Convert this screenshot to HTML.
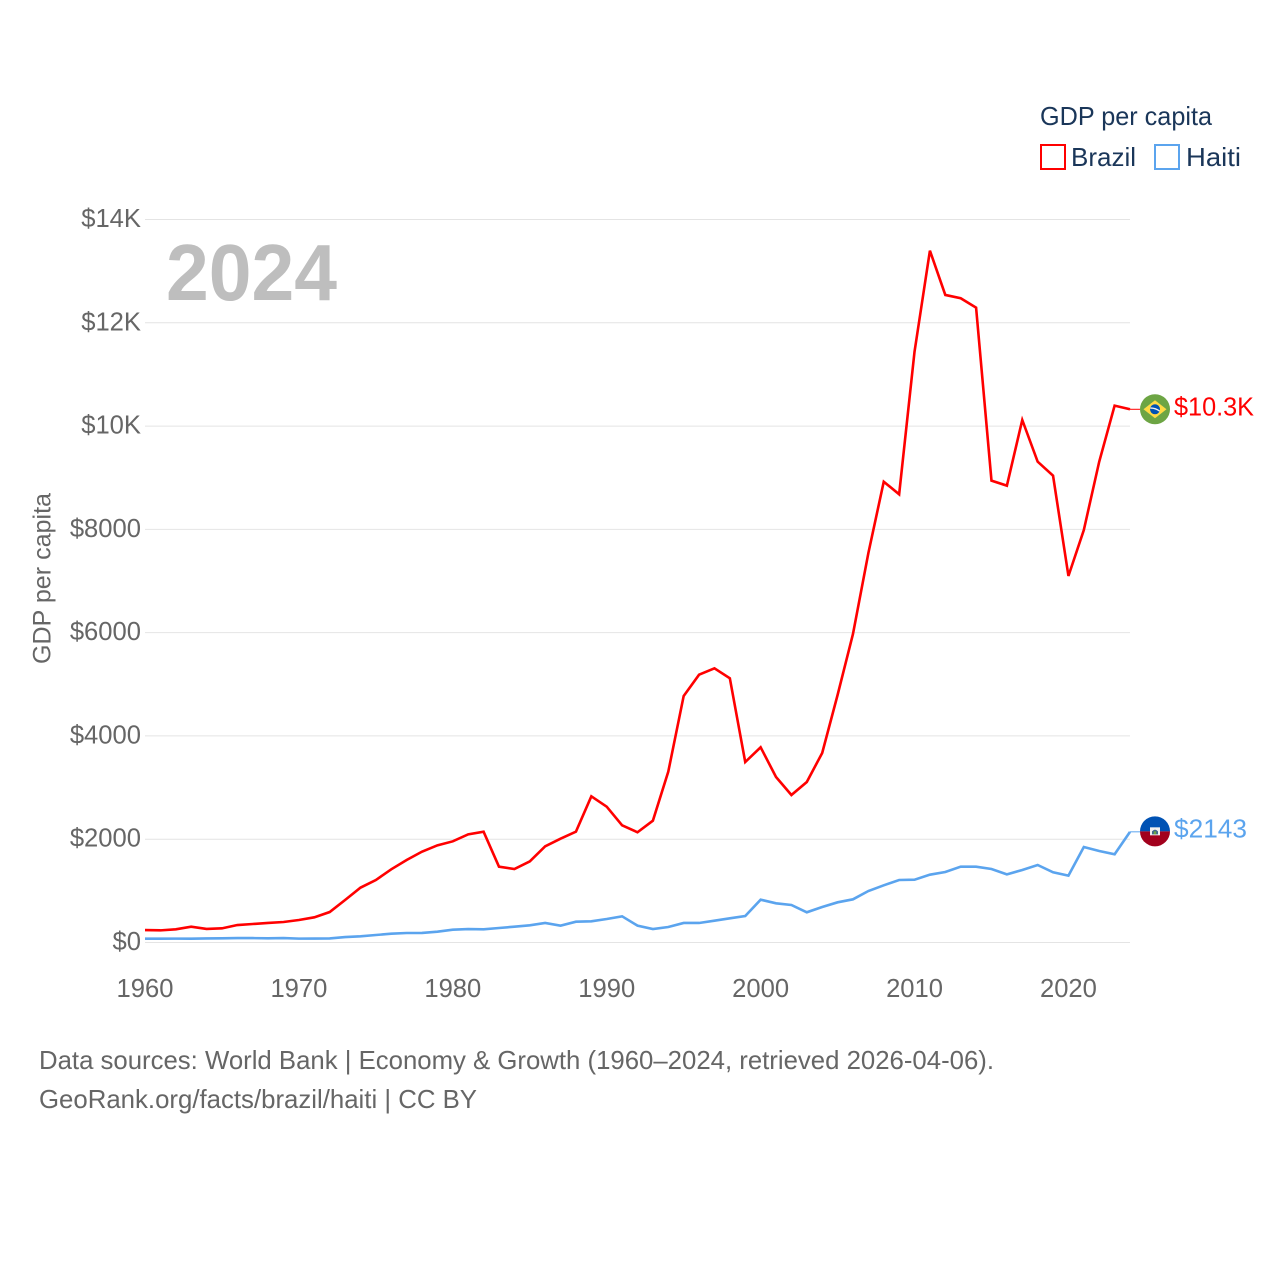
<!DOCTYPE html>
<html lang="en">
<head>
<meta charset="utf-8">
<title>GDP per capita: Brazil and Haiti</title>
<style>
html,body{margin:0;padding:0;background:#fff;}
svg{display:block;font-family:"Liberation Sans",Arial,sans-serif;}
</style>
</head>
<body>
<svg id="chart" xmlns="http://www.w3.org/2000/svg" width="1280" height="1280" viewBox="0 0 1280 1280">
  <rect x="0" y="0" width="1280" height="1280" fill="#ffffff"/>
  <g id="grid"></g>
  <g id="ytick-labels"></g>
  <g id="xtick-labels"></g>

  <text x="166" y="300" font-size="80" font-weight="700" fill="#bebebe" textLength="171" lengthAdjust="spacingAndGlyphs">2024</text>
  <text transform="translate(50.5,664) rotate(-90)" font-size="25" fill="#666666" textLength="171" lengthAdjust="spacingAndGlyphs">GDP per capita</text>

  <g id="series"></g>

  <g id="brazil-flag">
    <circle cx="0" cy="0" r="15" fill="#6da544"/>
    <polygon points="0,-9 11.5,0 0,9 -11.5,0" fill="#ffda44"/>
    <circle cx="0" cy="0" r="5" fill="#0052b4"/>
    <path d="M-4.8,-1.2 Q0,-1.5 4.6,1.8" stroke="#f0f0f0" stroke-width="1.3" fill="none"/>
  </g>
  <g id="haiti-flag">
    <path d="M-15,0 A15,15 0 0 1 15,0 Z" fill="#0052b4"/>
    <path d="M-15,0 A15,15 0 0 0 15,0 Z" fill="#a2001d"/>
    <rect x="-5" y="-4" width="10" height="8" fill="#f0f0f0"/>
    <path d="M-3,3 L-3,0 Q0,-3.5 3,0 L3,3 Z" fill="#3f6a8c"/>
    <rect x="-1.2" y="0" width="2.4" height="3" fill="#6da544"/>
  </g>

  <text id="brazil-value" x="1174" font-size="26" fill="#ff0000" textLength="80" lengthAdjust="spacingAndGlyphs"></text>
  <text id="haiti-value" x="1174" font-size="26" fill="#5ba4ee" textLength="73" lengthAdjust="spacingAndGlyphs"></text>

  <g>
    <text x="1040" y="125" font-size="26" fill="#1a3659" textLength="172" lengthAdjust="spacingAndGlyphs">GDP per capita</text>
    <g>
      <rect x="1041" y="145" width="24" height="24" fill="none" stroke="#ff0000" stroke-width="2"/>
      <text x="1071" y="166" font-size="26" fill="#1a3659" textLength="65" lengthAdjust="spacingAndGlyphs">Brazil</text>
    </g>
    <g>
      <rect x="1155" y="145" width="24" height="24" fill="none" stroke="#5ba4ee" stroke-width="2"/>
      <text x="1186" y="166" font-size="26" fill="#1a3659" textLength="55" lengthAdjust="spacingAndGlyphs">Haiti</text>
    </g>
  </g>

  <g>
    <text x="39" y="1069" font-size="26" fill="#666666" textLength="955" lengthAdjust="spacingAndGlyphs">Data sources: World Bank | Economy &amp; Growth (1960–2024, retrieved 2026-04-06).</text>
    <text x="39" y="1108" font-size="26" fill="#666666" textLength="438" lengthAdjust="spacingAndGlyphs">GeoRank.org/facts/brazil/haiti | CC BY</text>
  </g>
</svg>
<script>
const startYear = 1960;
const endYear = 2024;
const brazilValues = [240,235,255,305,262,274,338,358,378,397,436,488,590,823,1062,1210,1417,1598,1759,1882,1959,2094,2146,1468,1423,1571,1862,2010,2146,2830,2630,2269,2134,2359,3308,4773,5186,5309,5116,3495,3780,3205,2856,3108,3670,4793,5974,7540,8923,8679,11441,13397,12539,12475,12293,8943,8846,10118,9311,9039,7097,7988,9311,10395,10325];
const haitiValues = [74,74,75,74,78,81,85,85,82,85,75,77,78,106,120,145,170,184,186,209,248,261,256,281,306,333,378,326,403,410,455,507,326,261,300,378,378,422,468,513,829,759,726,585,687,778,836,997,1107,1210,1216,1313,1365,1468,1468,1423,1320,1404,1501,1359,1294,1849,1772,1708,2143];
const yTickValues = [0,2000,4000,6000,8000,10000,12000,14000];
const yTickLabels = ["$0","$2000","$4000","$6000","$8000","$10K","$12K","$14K"];
const xTickYears = [1960,1970,1980,1990,2000,2010,2020];

const NS = "http://www.w3.org/2000/svg";
function xScale(year) { return 145 + (year - startYear) * (985 / (endYear - startYear)); }
function yScale(value) { return 942.5 - value * (723 / 14000); }
function formatValue(v) { return v >= 10000 ? "$" + (v / 1000).toFixed(1) + "K" : "$" + v; }

const grid = document.getElementById("grid");
const yLabels = document.getElementById("ytick-labels");
yTickValues.forEach(function (v, i) {
  const line = document.createElementNS(NS, "line");
  
  
  line.setAttribute("x1", 145);
  line.setAttribute("x2", 1130);
  line.setAttribute("y1", yScale(v));
  line.setAttribute("y2", yScale(v));
  line.setAttribute("stroke", "#e4e4e4");
  line.setAttribute("stroke-width", "1");
  grid.appendChild(line);

  const label = document.createElementNS(NS, "text");
  
  
  label.setAttribute("x", 141);
  label.setAttribute("y", yScale(v) + 7.5);
  label.setAttribute("text-anchor", "end");
  label.setAttribute("font-size", "25.6");
  label.setAttribute("fill", "#666666");
  label.textContent = yTickLabels[i];
  yLabels.appendChild(label);
});

const xLabels = document.getElementById("xtick-labels");
xTickYears.forEach(function (year) {
  const label = document.createElementNS(NS, "text");
  
  
  label.setAttribute("x", xScale(year));
  label.setAttribute("y", 997);
  label.setAttribute("text-anchor", "middle");
  label.setAttribute("font-size", "25.6");
  label.setAttribute("fill", "#666666");
  label.textContent = year;
  xLabels.appendChild(label);
});

const seriesGroup = document.getElementById("series");

function linePoints(values) {
  return values.map(function (v, i) {
    return xScale(startYear + i).toFixed(2) + "," + yScale(v).toFixed(2);
  }).join(" ");
}

const brazilLine = document.createElementNS(NS, "polyline");


brazilLine.setAttribute("points", linePoints(brazilValues));
brazilLine.setAttribute("fill", "none");
brazilLine.setAttribute("stroke", "#ff0000");
brazilLine.setAttribute("stroke-width", "2.6");
brazilLine.setAttribute("stroke-linejoin", "miter");

const haitiLine = document.createElementNS(NS, "polyline");


haitiLine.setAttribute("points", linePoints(haitiValues));
haitiLine.setAttribute("fill", "none");
haitiLine.setAttribute("stroke", "#5ba4ee");
haitiLine.setAttribute("stroke-width", "2.6");
haitiLine.setAttribute("stroke-linejoin", "miter");

seriesGroup.appendChild(haitiLine);
seriesGroup.appendChild(brazilLine);

const brazilLast = brazilValues[brazilValues.length - 1];
const haitiLast = haitiValues[haitiValues.length - 1];

const brazilConnector = document.createElementNS(NS, "line");


brazilConnector.setAttribute("x1", xScale(endYear));
brazilConnector.setAttribute("x2", 1140);
brazilConnector.setAttribute("y1", yScale(brazilLast));
brazilConnector.setAttribute("y2", yScale(brazilLast));
brazilConnector.setAttribute("stroke", "#ff0000");
brazilConnector.setAttribute("stroke-width", "1");
seriesGroup.appendChild(brazilConnector);

const haitiConnector = document.createElementNS(NS, "line");


haitiConnector.setAttribute("x1", xScale(endYear));
haitiConnector.setAttribute("x2", 1140);
haitiConnector.setAttribute("y1", yScale(haitiLast));
haitiConnector.setAttribute("y2", yScale(haitiLast));
haitiConnector.setAttribute("stroke", "#5ba4ee");
haitiConnector.setAttribute("stroke-width", "1");
seriesGroup.appendChild(haitiConnector);

document.getElementById("brazil-flag").setAttribute("transform", "translate(1155," + yScale(brazilLast) + ")");
document.getElementById("haiti-flag").setAttribute("transform", "translate(1155," + (yScale(haitiLast) - 0.5) + ")");

const brazilValueLabel = document.getElementById("brazil-value");
brazilValueLabel.setAttribute("y", yScale(brazilLast) + 6);
brazilValueLabel.textContent = formatValue(brazilLast);

const haitiValueLabel = document.getElementById("haiti-value");
haitiValueLabel.setAttribute("y", yScale(haitiLast) + 5.5);
haitiValueLabel.textContent = formatValue(haitiLast);
</script>
</body>
</html>
